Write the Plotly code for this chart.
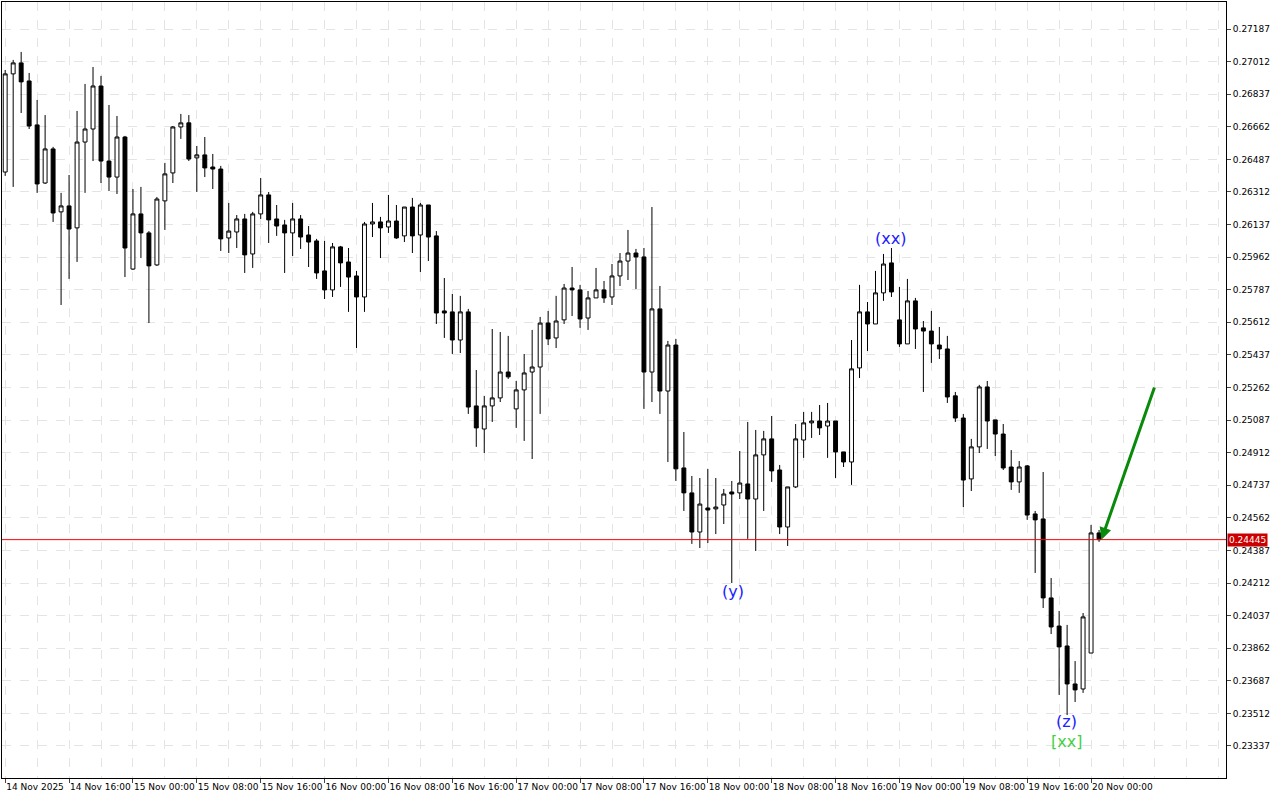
import plotly.graph_objects as go

# candles 1h, 14 Nov 2025 08:00 .. 20 Nov 2025 01:00
opens = [0.26419, 0.26946, 0.27005, 0.26908, 0.26672, 0.26360, 0.26543, 0.26205, 0.26237, 0.26119,
         0.26580, 0.26650, 0.26881, 0.26478, 0.26392, 0.26607, 0.25898, 0.26194, 0.26092, 0.25920,
         0.26264, 0.26414, 0.26661, 0.26683, 0.26495, 0.26511, 0.26446, 0.26435, 0.26065, 0.26097,
         0.26167, 0.25979, 0.26194, 0.26296, 0.26167, 0.26135, 0.26092, 0.26167, 0.26081, 0.26049,
         0.25888, 0.25786, 0.26017, 0.25936, 0.25861, 0.25748, 0.26140, 0.26151, 0.26124, 0.26156,
         0.26076, 0.26231, 0.26081, 0.26242, 0.26076, 0.25673, 0.25668, 0.25517, 0.25668, 0.25163,
         0.25039, 0.25163, 0.25206, 0.25345, 0.25147, 0.25249, 0.25345, 0.25372, 0.25608, 0.25528,
         0.25625, 0.25796, 0.25786, 0.25635, 0.25743, 0.25786, 0.25748, 0.25861, 0.25941, 0.25984,
         0.25963, 0.25345, 0.25684, 0.25243, 0.25490, 0.24830, 0.24696, 0.24486, 0.24615, 0.24610,
         0.24631, 0.24701, 0.24696, 0.24744, 0.24663, 0.24900, 0.24986, 0.24819, 0.24513, 0.24728,
         0.24980, 0.25072, 0.25082, 0.25055, 0.25082, 0.24916, 0.24862, 0.25367, 0.25668, 0.25603,
         0.25770, 0.25931, 0.25625, 0.25496, 0.25727, 0.25582, 0.25565, 0.25490, 0.25469, 0.25217,
         0.25098, 0.24771, 0.24943, 0.25265, 0.25088, 0.25012, 0.24835, 0.24755, 0.24841, 0.24583,
         0.24556, 0.24132, 0.23981, 0.23874, 0.23670, 0.23643, 0.23836, 0.24481]
highs = [0.26967, 0.27021, 0.27064, 0.26951, 0.26806, 0.26725, 0.26554, 0.26307, 0.26403, 0.26747,
         0.26892, 0.26983, 0.26935, 0.26779, 0.26720, 0.26613, 0.26328, 0.26339, 0.26102, 0.26285,
         0.26468, 0.26666, 0.26731, 0.26725, 0.26559, 0.26607, 0.26516, 0.26452, 0.26253, 0.26188,
         0.26194, 0.26205, 0.26387, 0.26312, 0.26242, 0.26162, 0.26253, 0.26188, 0.26129, 0.26060,
         0.26049, 0.26038, 0.26022, 0.26011, 0.25888, 0.26151, 0.26253, 0.26178, 0.26296, 0.26242,
         0.26231, 0.26280, 0.26253, 0.26242, 0.26102, 0.25850, 0.25764, 0.25754, 0.25684, 0.25356,
         0.25217, 0.25576, 0.25560, 0.25539, 0.25297, 0.25442, 0.25571, 0.25641, 0.25673, 0.25754,
         0.25818, 0.25909, 0.25813, 0.25780, 0.25904, 0.25834, 0.25925, 0.25984, 0.26108, 0.26006,
         0.26011, 0.26231, 0.25807, 0.25512, 0.25523, 0.25023, 0.24787, 0.24776, 0.24825, 0.24776,
         0.24717, 0.24760, 0.24921, 0.25077, 0.25034, 0.25029, 0.25109, 0.24846, 0.24728, 0.25066,
         0.25131, 0.25131, 0.25168, 0.25179, 0.25082, 0.24916, 0.25517, 0.25813, 0.25721, 0.25888,
         0.25979, 0.26011, 0.25802, 0.25845, 0.25743, 0.25619, 0.25673, 0.25587, 0.25539, 0.25238,
         0.25120, 0.24986, 0.25276, 0.25297, 0.25088, 0.25066, 0.24926, 0.24867, 0.24846, 0.24599,
         0.24808, 0.24239, 0.24062, 0.23987, 0.23793, 0.24051, 0.24524, 0.24497]
lows = [0.26398, 0.26339, 0.26736, 0.26650, 0.26307, 0.26355, 0.26151, 0.25705, 0.25845, 0.25936,
        0.26307, 0.26478, 0.26360, 0.26317, 0.26301, 0.25855, 0.25893, 0.25957, 0.25608, 0.25915,
        0.26108, 0.26360, 0.26597, 0.26478, 0.26312, 0.26392, 0.26328, 0.25995, 0.25984, 0.26011,
        0.25877, 0.25904, 0.26167, 0.26038, 0.26076, 0.25877, 0.25968, 0.26006, 0.25909, 0.25845,
        0.25737, 0.25748, 0.25802, 0.25668, 0.25474, 0.25668, 0.26070, 0.25957, 0.26092, 0.26060,
        0.26043, 0.25984, 0.25882, 0.25941, 0.25603, 0.25528, 0.25442, 0.25447, 0.25120, 0.24943,
        0.24910, 0.25077, 0.25184, 0.25308, 0.25045, 0.24975, 0.24878, 0.25120, 0.25490, 0.25474,
        0.25603, 0.25646, 0.25582, 0.25571, 0.25743, 0.25716, 0.25705, 0.25807, 0.25839, 0.25791,
        0.25147, 0.25184, 0.25120, 0.24862, 0.24760, 0.24599, 0.24422, 0.24400, 0.24427, 0.24475,
        0.24529, 0.24212, 0.24663, 0.24449, 0.24384, 0.24599, 0.24755, 0.24475, 0.24411, 0.24722,
        0.24884, 0.24991, 0.25007, 0.24884, 0.24776, 0.24835, 0.24739, 0.25313, 0.25458, 0.25603,
        0.25727, 0.25748, 0.25480, 0.25496, 0.25469, 0.25238, 0.25394, 0.25415, 0.25179, 0.25077,
        0.24620, 0.24706, 0.24910, 0.24932, 0.24894, 0.24819, 0.24712, 0.24696, 0.24551, 0.24266,
        0.24078, 0.23938, 0.23611, 0.23503, 0.23573, 0.23622, 0.23836, 0.24433]
closes = [0.26946, 0.27005, 0.26903, 0.26666, 0.26355, 0.26543, 0.26199, 0.26237, 0.26113, 0.26580,
          0.26650, 0.26881, 0.26478, 0.26392, 0.26607, 0.26011, 0.26194, 0.26092, 0.25915, 0.26274,
          0.26409, 0.26661, 0.26683, 0.26489, 0.26511, 0.26441, 0.26435, 0.26060, 0.26102, 0.26167,
          0.25974, 0.26194, 0.26296, 0.26162, 0.26129, 0.26092, 0.26167, 0.26070, 0.26043, 0.25877,
          0.25786, 0.26017, 0.25931, 0.25855, 0.25748, 0.26140, 0.26151, 0.26119, 0.26156, 0.26065,
          0.26231, 0.26076, 0.26242, 0.26070, 0.25662, 0.25662, 0.25517, 0.25668, 0.25157, 0.25045,
          0.25163, 0.25206, 0.25345, 0.25319, 0.25249, 0.25340, 0.25372, 0.25608, 0.25523, 0.25619,
          0.25796, 0.25786, 0.25630, 0.25743, 0.25786, 0.25743, 0.25861, 0.25941, 0.25984, 0.25963,
          0.25345, 0.25684, 0.25243, 0.25490, 0.24825, 0.24696, 0.24486, 0.24636, 0.24604, 0.24620,
          0.24690, 0.24690, 0.24749, 0.24663, 0.24900, 0.24986, 0.24814, 0.24513, 0.24728, 0.24986,
          0.25072, 0.25082, 0.25045, 0.25082, 0.24916, 0.24862, 0.25362, 0.25668, 0.25603, 0.25770,
          0.25925, 0.25775, 0.25496, 0.25727, 0.25576, 0.25565, 0.25496, 0.25469, 0.25211, 0.25098,
          0.24765, 0.24943, 0.25265, 0.25082, 0.25012, 0.24830, 0.24755, 0.24835, 0.24577, 0.24551,
          0.24132, 0.23976, 0.23869, 0.23670, 0.23638, 0.24030, 0.24481, 0.24445]

bars = list(range(len(opens)))
time_labels = ["14 Nov 2025", "14 Nov 16:00", "15 Nov 00:00", "15 Nov 08:00", "15 Nov 16:00",
               "16 Nov 00:00", "16 Nov 08:00", "16 Nov 16:00", "17 Nov 00:00", "17 Nov 08:00",
               "17 Nov 16:00", "18 Nov 00:00", "18 Nov 08:00", "18 Nov 16:00", "19 Nov 00:00",
               "19 Nov 08:00", "19 Nov 16:00", "20 Nov 00:00"]
time_ticks = [i * 8 for i in range(len(time_labels))]
price_ticks = [0.27187, 0.27012, 0.26837, 0.26662, 0.26487, 0.26312, 0.26137, 0.25962, 0.25787,
               0.25612, 0.25437, 0.25262, 0.25087, 0.24912, 0.24737, 0.24562, 0.24387, 0.24212,
               0.24037, 0.23862, 0.23687, 0.23512, 0.23337]
last_price = 0.24445

# wave labels (bar, price, text, colour)
wave_x = [110.9, 91.1, 132.9, 132.9]
wave_y = [0.26060, 0.24169, 0.23466, 0.23359]
wave_text = ["(xx)", "(y)", "(z)", "[xx]"]
wave_col = ["#2020ff", "#2020ff", "#2020ff", "#44d044"]

# forecast arrow
arrow_from = (144.0, 0.25270)
arrow_to = (137.3, last_price)

fig = go.Figure()
fig.add_trace(go.Candlestick(
    x=bars, open=opens, high=highs, low=lows, close=closes,
    increasing=dict(line=dict(color="black", width=1), fillcolor="white"),
    decreasing=dict(line=dict(color="black", width=1), fillcolor="black"),
    whiskerwidth=0, showlegend=False, hoverinfo="skip"))

fig.add_hline(y=last_price, line=dict(color="#ff0000", width=1))

for x, y, t, c in zip(wave_x, wave_y, wave_text, wave_col):
    fig.add_annotation(x=x, y=y, text=t, showarrow=False,
                       font=dict(family="DejaVu Sans", size=16, color=c))

fig.add_annotation(x=arrow_to[0], y=arrow_to[1], ax=arrow_from[0], ay=arrow_from[1],
                   axref="x", ayref="y", text="", showarrow=True,
                   arrowhead=2, arrowsize=0.8, arrowwidth=3, arrowcolor="#0a8a0a")

fig.add_annotation(xref="paper", x=1, y=last_price, text=str(last_price), showarrow=False,
                   xanchor="left", xshift=1, bgcolor="#cc0000", borderpad=1,
                   font=dict(family="DejaVu Sans", size=9, color="white"))

fig.update_layout(
    width=1280, height=800,
    margin=dict(l=2, r=54, t=2, b=22),
    plot_bgcolor="white", paper_bgcolor="white",
    font=dict(family="DejaVu Sans", size=9, color="black"),
    xaxis=dict(range=[-0.4, 152.9], rangeslider=dict(visible=False), automargin=False,
               tickvals=time_ticks, ticktext=time_labels, ticks="outside", ticklen=4,
               tickangle=0, ticklabelposition="outside right",
               showgrid=False, zeroline=False,
               showline=True, linecolor="black", linewidth=1, mirror=True,
               minor=dict(tick0=0, dtick=4, showgrid=True, gridcolor="#e4e4e4",
                          griddash="dash")),
    yaxis=dict(side="right", range=[0.23165, 0.27332], automargin=False,
               tickvals=price_ticks, ticktext=[f"{p:.5f}" for p in price_ticks],
               ticks="outside", ticklen=4,
               showgrid=True, gridcolor="#e4e4e4", griddash="dash", zeroline=False,
               showline=True, linecolor="black", linewidth=1, mirror=True),
)

fig.write_html("out.html", config={"displayModeBar": False},
               post_script="document.body.style.margin='0';")
